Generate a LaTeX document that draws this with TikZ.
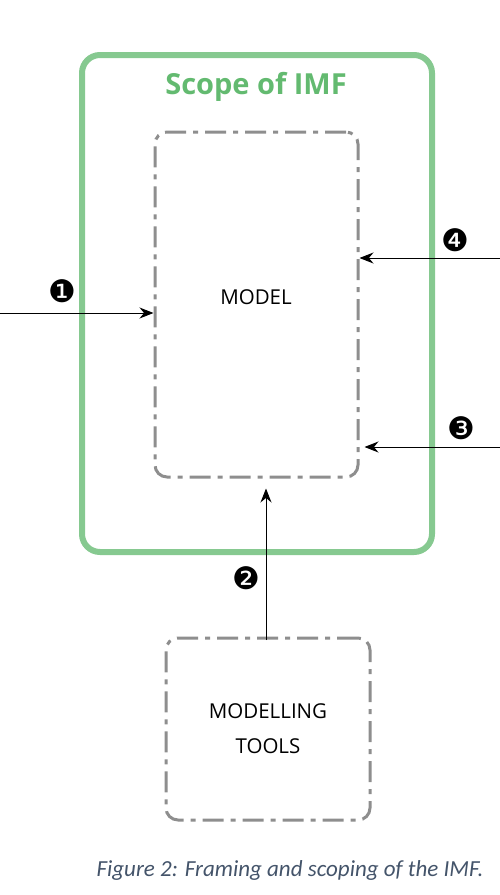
\documentclass[tikz,border=0pt]{standalone}
\usepackage{fontspec}
\setmainfont{Open Sans}
\newfontfamily\capfont{Carlito}
\newfontfamily\numfont{DejaVu Sans}
\usetikzlibrary{arrows.meta,positioning}
\definecolor{imfgreen}{HTML}{86C990}
\definecolor{imftitle}{HTML}{63BA70}
\definecolor{boxgray}{HTML}{8E8E8E}
\definecolor{capblue}{HTML}{44546A}

\begin{document}
\begin{tikzpicture}[x=1pt,y=-1pt,
		scopebox/.style={draw=imfgreen, line width=6pt, rounded corners=18pt},
		dashbox/.style={draw=boxgray, line width=3pt, rounded corners=12pt,
			dash pattern=on 21pt off 7pt on 5pt off 7pt},
		arr/.style={-{Stealth[length=14pt,width=11pt]}, line width=0.9pt},
		num/.style={font=\numfont\fontsize{31}{31}\selectfont}]
				% Frame
				\useasboundingbox (0,0) rectangle (500,895);
				% Boxes
				\node[scopebox, minimum width=350pt, minimum height=497pt] (scope) at (257,303.5) {};
				\node[text=imftitle, font=\bfseries\fontsize{29}{29}\selectfont] (title) at (256,87) {Scope of IMF};
				\node[dashbox, minimum width=203pt, minimum height=345pt] (model) at (256.5,304.5) {};
				\node[font=\fontsize{20.5}{20.5}\selectfont] (modeltext) at (256,297) {MODEL};
				\node[dashbox, minimum width=204pt, minimum height=182pt, align=center,
					font=\fontsize{20.5}{35}\selectfont] (tools) at (268,729) {MODELLING\\TOOLS};
				% Inputs
				\coordinate (in1) at (0,313);
				\coordinate (in4) at (500,258);
				\coordinate (in3) at (500,447);
				\coordinate (in2) at (266,640);
				\draw[arr] (in1) -- (in1 -| model.west);
				\draw[arr] (in4) -- (in4 -| model.east);
				\draw[arr] (in3) -- ([xshift=5pt]in3 -| model.east);
				\draw[arr] (in2) -- ([yshift=-10pt]in2 |- model.south);
				% Numbers
				\node[num] (n1) at (62,291) {❶};
				\node[num] (n2) at (246,578) {❷};
				\node[num] (n3) at (461,428) {❸};
				\node[num] (n4) at (455,240) {❹};
				% Caption
				\node[text=capblue, font=\capfont\itshape\fontsize{23}{23}\selectfont] (caption) at (290,870) {Figure 2: Framing and scoping of the IMF.};
			\end{tikzpicture}
\end{document}
